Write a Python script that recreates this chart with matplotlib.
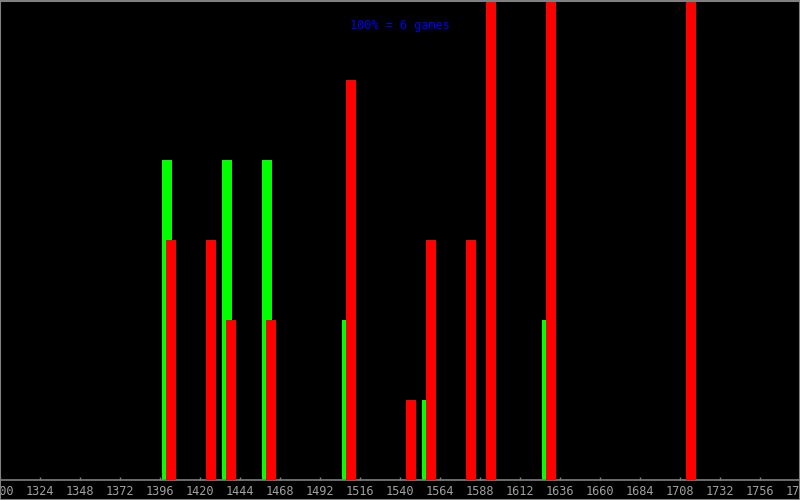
import matplotlib
matplotlib.use("Agg")
import matplotlib.pyplot as plt
from matplotlib.lines import Line2D

# Rating bins (lower edge of each 12-point bin)
green_bins = [1400, 1436, 1460, 1508, 1556, 1628]
green_games = [4, 4, 4, 2, 1, 2]
red_bins = [1400, 1424, 1436, 1460, 1508, 1544, 1556, 1580, 1592, 1628, 1712]
red_games = [3, 3, 2, 2, 5, 1, 3, 3, 6, 6, 6]
max_games = 6
tick_values = list(range(1300, 1781, 24))
label_text = "100% = 6 games"

fig = plt.figure(figsize=(8, 5), dpi=100, facecolor="black")
ax = fig.add_axes([0, 20 / 500, 1, 480 / 500])
ax.set_facecolor("black")

ax.bar([b - 2.8 for b in green_bins], green_games, width=6, align="edge",
       color="#00ff00", linewidth=0, antialiased=False, zorder=2)
ax.bar([b - 0.4 for b in red_bins], red_games, width=6, align="edge",
       color="#ff0000", linewidth=0, antialiased=False, zorder=3)

ax.set_xlim(1300, 1780)
ax.set_ylim(0, max_games)
ax.set_xticks(tick_values)
ax.set_xticklabels([str(v) for v in tick_values], family="DejaVu Sans Mono")
ax.set_yticks([])
for s in ["top", "left", "right"]:
    ax.spines[s].set_visible(False)
ax.spines["bottom"].set_color("#808080")
ax.spines["bottom"].set_linewidth(1.2)
ax.tick_params(axis="x", direction="in", length=2.5, width=1, color="#808080",
               labelcolor="#a0a0a0", labelsize=8.6, pad=3.5)

fig.text(400 / 800, 1 - 25.5 / 500, label_text, color="#0000ff", fontsize=8.6,
         family="DejaVu Sans Mono", ha="center", va="center")

# gray frame around the image
gray = "#808080"
for xs, ys in [([0, 1], [0.999, 0.999]), ([0, 1], [0.001, 0.001]),
               ([0.0006, 0.0006], [0, 1]), ([0.9994, 0.9994], [0, 1])]:
    fig.add_artist(Line2D(xs, ys, transform=fig.transFigure, color=gray, linewidth=1.5))

fig.savefig("out.png", dpi=100, facecolor="black")
